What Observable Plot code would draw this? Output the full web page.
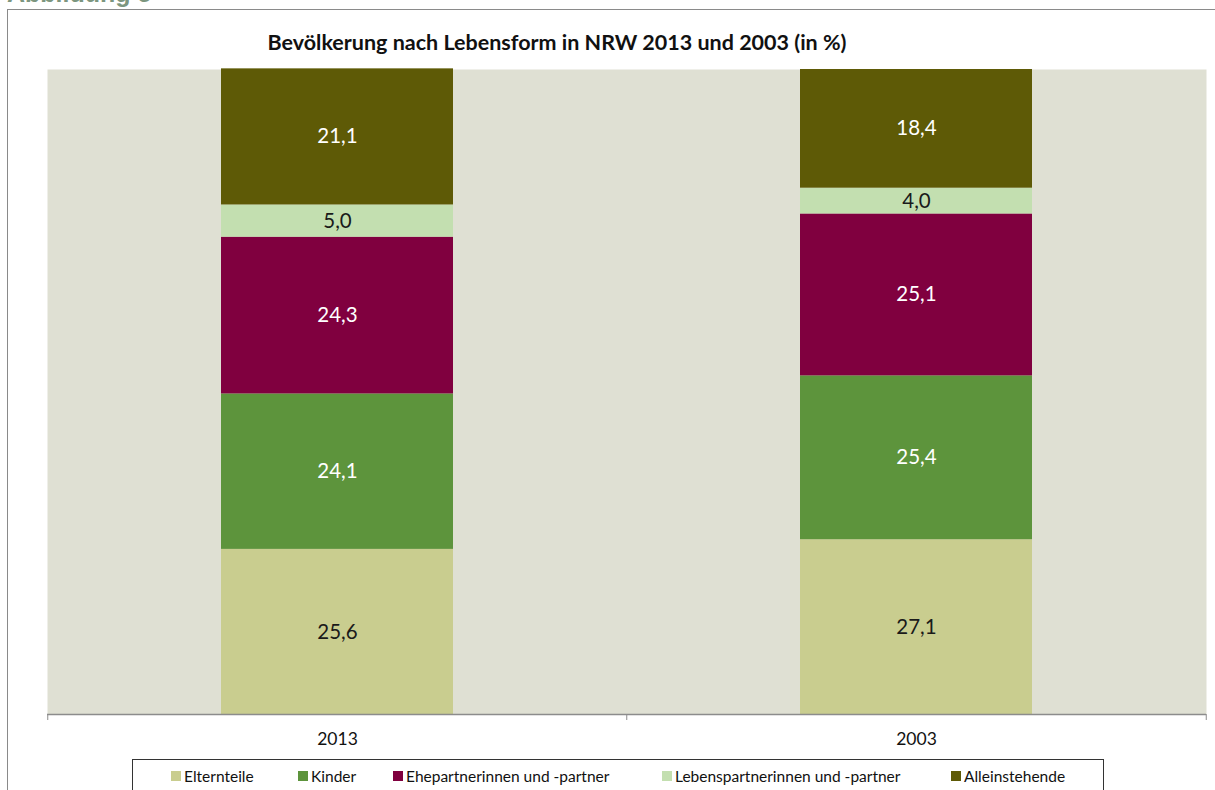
<!DOCTYPE html>
<html>
<head>
<meta charset="utf-8">
<script src="https://cdn.jsdelivr.net/npm/d3@7"></script>
<script src="https://cdn.jsdelivr.net/npm/@observablehq/plot@0.6"></script>
<style>
  html, body { margin: 0; padding: 0; background: #ffffff; }
  #wrap { position: relative; width: 1215px; height: 790px; overflow: hidden; background: #ffffff; font-family: Lato, "Open Sans", sans-serif; }
  #frame { position: absolute; left: 7px; top: 9px; width: 1400px; height: 1000px; border: 1px solid #8a8a8a; box-sizing: border-box; }
  #abb { position: absolute; left: 7px; top: -19px; font-family: "Liberation Sans", Arial, sans-serif; font-weight: bold; font-size: 25px; color: #7c967f; line-height: 25px; }
  #title { position: absolute; left: 0; width: 1114px; top: 29px; text-align: center; font-weight: bold; font-size: 21.5px; color: #111; line-height: 26px; }
  #chart { position: absolute; left: 0; top: 0; }
  #legend { position: absolute; left: 132px; top: 759px; width: 972px; height: 60px; border: 1px solid #333; box-sizing: border-box; background: #fff; }
  .item { position: absolute; top: 7px; font-size: 15.5px; color: #111; line-height: 18px; white-space: nowrap; }
  .sw { position: absolute; width: 10px; height: 10px; }
</style>
</head>
<body>
<div id="wrap">
  <div id="frame"></div>
  <div id="abb">Abbildung 5</div>
  <div id="title">Bevölkerung nach Lebensform in NRW 2013 und 2003 (in %)</div>
  <div id="chart"></div>
  <div id="legend"></div>
</div>
<script>
// ---- data ----
const years = ["2013", "2003"];
const series = ["Elternteile", "Kinder", "Ehepartnerinnen und -partner", "Lebenspartnerinnen und -partner", "Alleinstehende"];
const values2013 = [25.6, 24.1, 24.3, 5.0, 21.1];
const values2003 = [27.1, 25.4, 25.1, 4.0, 18.4];
const colors = ["#c9cd8f", "#5d943c", "#80003f", "#c3dfb0", "#5e5a06"];
const darkLabelSeries = ["Elternteile", "Lebenspartnerinnen und -partner"];

const valuesByYear = {"2013": values2013, "2003": values2003};
const colorOf = Object.fromEntries(series.map((s, i) => [s, colors[i]]));
const table = years.flatMap(y => series.map((s, i) => ({year: y, series: s, value: valuesByYear[y][i]})));
const fmt = v => v.toFixed(1).replace(".", ",");

const step = (1215 - 47 - 9) / years.length;

const chart = Plot.plot({
  width: 1215,
  height: 790,
  marginTop: 69,
  marginBottom: 76,
  marginLeft: 47,
  marginRight: 9,
  style: {fontFamily: "Lato, 'Open Sans', sans-serif", background: "transparent"},
  x: {type: "band", domain: years, paddingInner: 0.6, paddingOuter: 0.3, axis: null},
  y: {domain: [0, 100], axis: null},
  color: {type: "identity"},
  marks: [
    Plot.frame({fill: "#dfe0d3", stroke: null}),
    Plot.barY(table, {x: "year", y: "value", z: "series", order: series, fill: d => colorOf[d.series]}),
    Plot.text(table, Plot.stackY({
      x: "year", y: "value", z: "series", order: series,
      text: d => fmt(d.value),
      fill: d => darkLabelSeries.includes(d.series) ? "#1a1a1a" : "#ffffff",
      fontSize: 20.5
    })),
    Plot.ruleY([0], {stroke: "#8c8c8c", strokeWidth: 1.5}),
    Plot.ruleX(years, {x: d => d, y1: 0, y2: 0, insetBottom: -6, dx: -step / 2, stroke: "#8c8c8c"}),
    Plot.ruleX(years.slice(-1), {x: d => d, y1: 0, y2: 0, insetBottom: -6, dx: step / 2, stroke: "#8c8c8c"}),
    Plot.axisX({tickSize: 0, tickPadding: 18, fontSize: 17.5, fill: "#111"})
  ]
});
document.getElementById("chart").appendChild(chart);

// ---- legend ----
const legendX = [38, 165, 260, 529, 818];
const legend = document.getElementById("legend");
series.forEach((s, i) => {
  const sw = document.createElement("div");
  sw.className = "sw";
  sw.style.left = legendX[i] + "px";
  sw.style.top = "11px";
  sw.style.background = colorOf[s];
  legend.appendChild(sw);
  const t = document.createElement("div");
  t.className = "item";
  t.style.left = (legendX[i] + 13) + "px";
  t.textContent = s;
  legend.appendChild(t);
});
</script>
</body>
</html>
